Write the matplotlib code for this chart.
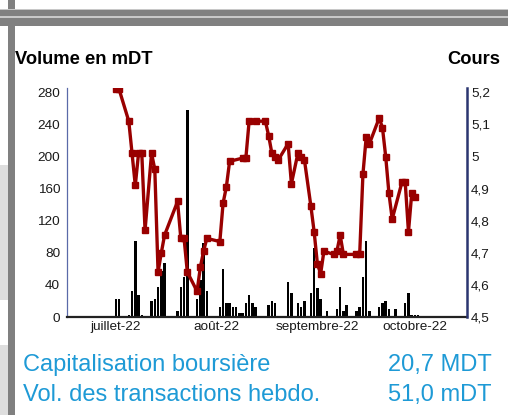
import matplotlib
matplotlib.use("Agg")
import matplotlib.pyplot as plt
import matplotlib.dates as mdates
from matplotlib.patches import Rectangle
import pandas as pd

plt.rcParams['font.family'] = ['Liberation Sans', 'DejaVu Sans']

# ── Data ─────────────────────────────────────────────────────────────────────
price_dates = [
    "2022-07-16", "2022-07-17", "2022-07-20", "2022-07-21", "2022-07-22", "2022-07-23",
    "2022-07-24", "2022-07-25", "2022-07-27", "2022-07-28", "2022-07-29", "2022-07-30",
    "2022-07-31", "2022-08-04", "2022-08-05", "2022-08-06", "2022-08-07", "2022-08-10",
    "2022-08-11", "2022-08-12", "2022-08-13", "2022-08-17", "2022-08-18", "2022-08-19",
    "2022-08-20", "2022-08-24", "2022-08-25", "2022-08-26", "2022-08-28", "2022-08-31",
    "2022-09-01", "2022-09-02", "2022-09-03", "2022-09-04", "2022-09-07", "2022-09-08",
    "2022-09-10", "2022-09-11", "2022-09-12", "2022-09-14", "2022-09-15", "2022-09-16",
    "2022-09-17", "2022-09-18", "2022-09-21", "2022-09-22", "2022-09-23", "2022-09-24",
    "2022-09-28", "2022-09-29", "2022-09-30", "2022-10-01", "2022-10-02", "2022-10-05",
    "2022-10-06", "2022-10-07", "2022-10-08", "2022-10-09", "2022-10-12", "2022-10-13",
    "2022-10-14", "2022-10-15", "2022-10-16",
]
price = [
    5.21, 5.21, 5.11, 5.01, 4.91, 5.01,
    5.01, 4.77, 5.01, 4.96, 4.64, 4.70,
    4.755, 4.86, 4.745, 4.745, 4.64, 4.58,
    4.655, 4.705, 4.745, 4.735, 4.855, 4.905,
    4.985, 4.995, 4.995, 5.11, 5.11, 5.11,
    5.065, 5.01, 5.00, 4.99, 5.04, 4.915,
    5.01, 5.00, 4.99, 4.845, 4.765, 4.665,
    4.635, 4.705, 4.695, 4.705, 4.755, 4.695,
    4.695, 4.695, 4.945, 5.06, 5.04, 5.12,
    5.09, 5.00, 4.885, 4.805, 4.92, 4.92,
    4.765, 4.885, 4.875,
]

volume_dates = [
    "2022-07-16", "2022-07-17", "2022-07-20", "2022-07-21", "2022-07-22", "2022-07-23",
    "2022-07-24", "2022-07-27", "2022-07-28", "2022-07-29", "2022-07-30", "2022-07-31",
    "2022-08-04", "2022-08-05", "2022-08-06", "2022-08-07", "2022-08-10", "2022-08-11",
    "2022-08-12", "2022-08-13", "2022-08-17", "2022-08-18", "2022-08-19", "2022-08-20",
    "2022-08-21", "2022-08-22", "2022-08-23", "2022-08-24", "2022-08-25", "2022-08-26",
    "2022-08-27", "2022-08-28", "2022-09-01", "2022-09-02", "2022-09-03", "2022-09-07",
    "2022-09-08", "2022-09-10", "2022-09-11", "2022-09-12", "2022-09-14", "2022-09-15",
    "2022-09-16", "2022-09-17", "2022-09-19", "2022-09-22", "2022-09-23", "2022-09-24",
    "2022-09-25", "2022-09-28", "2022-09-29", "2022-09-30", "2022-10-01", "2022-10-02",
    "2022-10-05", "2022-10-06", "2022-10-07", "2022-10-08", "2022-10-10", "2022-10-13",
    "2022-10-14", "2022-10-15", "2022-10-16", "2022-10-17",
]
volume = [
    22, 22, 2, 32, 95, 27,
    2, 20, 22, 37, 57, 67,
    8, 38, 50, 258, 22, 46,
    92, 33, 13, 60, 18, 18,
    13, 12, 5, 5, 17, 27,
    17, 12, 15, 20, 18, 43,
    30, 18, 13, 20, 30, 86,
    36, 22, 7, 10, 38, 8,
    15, 8, 12, 50, 95, 8,
    12, 17, 20, 10, 10, 17,
    30, 2, 2, 2,
]

month_ticks = ["2022-07-16", "2022-08-16", "2022-09-16", "2022-10-16"]
month_labels = ["juillet-22", "août-22", "septembre-22", "octobre-22"]
vol_ticks = [0, 40, 80, 120, 160, 200, 240, 280]
price_ticks = [4.5, 4.6, 4.7, 4.8, 4.9, 5.0, 5.1, 5.2]
price_labels = ["4,5", "4,6", "4,7", "4,8", "4,9", "5", "5,1", "5,2"]

cap_label, cap_value = "Capitalisation boursière", "20,7 MDT"
vol_label, vol_value = "Vol. des transactions hebdo.", "51,0 mDT"

# ── Figure ───────────────────────────────────────────────────────────────────
W, H = 508, 415
fig = plt.figure(figsize=(W / 100, H / 100), dpi=100)
fig.patch.set_facecolor("white")


def px_rect(x0, y0, x1, y1, color):
    """Rectangle in pixel coords (origin top-left)."""
    fig.patches.append(Rectangle((x0 / W, 1 - y1 / H), (x1 - x0) / W, (y1 - y0) / H,
                                 transform=fig.transFigure, color=color, lw=0, zorder=0))


# page decoration (grey frame bits)
px_rect(0, 165, 8, 300, "#dedede")
px_rect(0, 345, 8, 415, "#dedede")
px_rect(8, 0, 15, H, "#808080")
px_rect(0, 9, W, 10, "#c8c8c8")
px_rect(0, 10, W, 16.5, "#808080")
px_rect(0, 16.5, W, 18.5, "#c8c8c8")
px_rect(0, 18.5, W, 26, "#808080")

ax = fig.add_axes([67 / W, 1 - 317 / H, 400 / W, (317 - 88.3) / H])
ax2 = ax.twinx()

vx = mdates.date2num(pd.to_datetime(volume_dates))
px_ = mdates.date2num(pd.to_datetime(price_dates))

ax.bar(vx, volume, width=0.75, color="black", align="center", zorder=2)
ax2.plot(px_, price, color="#990000", lw=2.4, marker="s", ms=4.4,
         solid_joinstyle="round", zorder=3)

ax.set_xlim(mdates.date2num(pd.Timestamp("2022-07-01")),
            mdates.date2num(pd.Timestamp("2022-11-01")))
ax.set_ylim(0, 285)
ax2.set_ylim(4.5, 5.2125)

ax.set_xticks(mdates.date2num(pd.to_datetime(month_ticks)))
ax.set_xticklabels(month_labels)
ax.set_yticks(vol_ticks)
ax2.set_yticks(price_ticks)
ax2.set_yticklabels(price_labels)

ax.tick_params(axis="x", length=0, pad=3, labelsize=9.7, colors="#1a1a1a")
ax.tick_params(axis="y", length=0, pad=5, labelsize=9.7, colors="#1a1a1a")
ax2.tick_params(axis="y", length=0, pad=3, labelsize=9.7, colors="#1a1a1a")

for sp in ["top", "right"]:
    ax.spines[sp].set_visible(False)
ax.spines["left"].set_color("#5a6aa8")
ax.spines["left"].set_linewidth(0.9)
ax.spines["bottom"].set_color("#222222")
ax.spines["bottom"].set_linewidth(1.6)
for sp in ["top", "left", "bottom"]:
    ax2.spines[sp].set_visible(False)
ax2.spines["right"].set_color("#2b3570")
ax2.spines["right"].set_linewidth(1.8)

# axis titles
fig.text(15 / W, 1 - 59 / H, "Volume en mDT", fontsize=13.2, fontweight="bold",
         ha="left", va="center", color="black")
fig.text(500 / W, 1 - 59 / H, "Cours", fontsize=13.2, fontweight="bold",
         ha="right", va="center", color="black")

# key figures
blue = "#1E9AD6"
fig.text(23 / W, 1 - 365 / H, cap_label, fontsize=17, color=blue, ha="left", va="center")
fig.text(492 / W, 1 - 365 / H, cap_value, fontsize=17, color=blue, ha="right", va="center")
fig.text(23 / W, 1 - 395 / H, vol_label, fontsize=17, color=blue, ha="left", va="center")
fig.text(492 / W, 1 - 395 / H, vol_value, fontsize=17, color=blue, ha="right", va="center")

fig.savefig("out.png", dpi=100)
